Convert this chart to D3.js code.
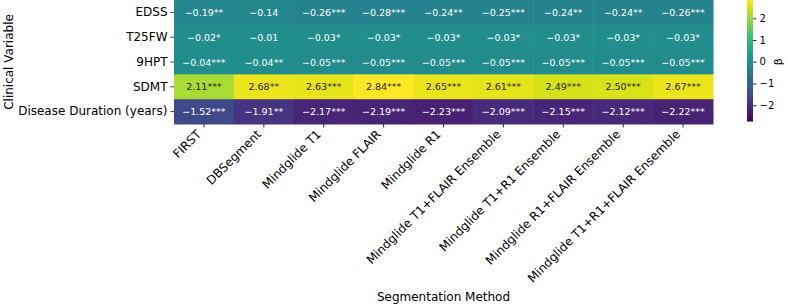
<!DOCTYPE html>
<html><head><meta charset="utf-8">
<script src="https://cdn.jsdelivr.net/npm/d3@7"></script>
<style>body{margin:0;background:#fff}svg{display:block;font-family:"DejaVu Sans",sans-serif}</style>
</head><body><svg id="c" width="788" height="305"></svg>
<script>
const rows = ["EDSS","T25FW","9HPT","SDMT","Disease Duration (years)"];
const cols = ["FIRST","DBSegment","Mindglide T1","Mindglide FLAIR","Mindglide R1","Mindglide T1+FLAIR Ensemble","Mindglide T1+R1 Ensemble","Mindglide R1+FLAIR Ensemble","Mindglide T1+R1+FLAIR Ensemble"];
const betaEDSS  = [-0.19,-0.14,-0.26,-0.28,-0.24,-0.25,-0.24,-0.24,-0.26];
const betaT25FW = [-0.02,-0.01,-0.03,-0.03,-0.03,-0.03,-0.03,-0.03,-0.03];
const beta9HPT  = [-0.04,-0.04,-0.05,-0.05,-0.05,-0.05,-0.05,-0.05,-0.05];
const betaSDMT  = [2.11,2.68,2.63,2.84,2.65,2.61,2.49,2.50,2.67];
const betaDur   = [-1.52,-1.91,-2.17,-2.19,-2.23,-2.09,-2.15,-2.12,-2.22];
const starsEDSS  = ["**","","***","***","**","***","**","**","***"];
const starsT25FW = ["*","","*","*","*","*","*","*","*"];
const stars9HPT  = ["***","**","***","***","***","***","***","***","***"];
const starsSDMT  = ["***","**","***","***","***","***","***","***","***"];
const starsDur   = ["***","**","***","***","***","***","***","***","***"];
const cbTicks = [-2,-1,0,1,2];
const colorDomain = [-2.75, 2.84];

const values = [betaEDSS,betaT25FW,beta9HPT,betaSDMT,betaDur];
const stars = [starsEDSS,starsT25FW,stars9HPT,starsSDMT,starsDur];
const cells = [];
rows.forEach((r,i)=>cols.forEach((c,j)=>cells.push({r,c,v:values[i][j],s:stars[i][j]})));

const svg = d3.select("#c");
const L=174, R=713, T=0, B=124;
const x = d3.scaleBand().domain(cols).range([L,R]);
const y = d3.scaleBand().domain(rows).range([T,B]);
const color = d3.scaleSequential(d3.interpolateViridis).domain(colorDomain);

function lum(c){
  const r=d3.rgb(c);
  const f=v=>{v/=255;return v<=0.03928?v/12.92:Math.pow((v+0.055)/1.055,2.4);};
  return 0.2126*f(r.r)+0.7152*f(r.g)+0.0722*f(r.b);
}

svg.append("g").selectAll("rect").data(cells).join("rect")
  .attr("x",d=>x(d.c)).attr("y",d=>y(d.r))
  .attr("width",x.bandwidth()+0.5).attr("height",y.bandwidth()+0.5)
  .attr("fill",d=>color(d.v));

const fmt = d3.format(".2f");
svg.append("g").selectAll("text").data(cells).join("text")
  .attr("x",d=>x(d.c)+x.bandwidth()/2).attr("y",d=>y(d.r)+y.bandwidth()/2)
  .attr("text-anchor","middle").attr("dominant-baseline","central")
  .attr("font-size",9.5).attr("fill",d=>lum(color(d.v))>0.408?"#262626":"#fff")
  .text(d=>fmt(d.v)+d.s);

// y axis
const ya = svg.append("g").attr("transform",`translate(${L},0)`)
  .call(d3.axisLeft(y).tickSize(3.5).tickPadding(3));
ya.select(".domain").remove();
ya.selectAll("text").attr("font-size",12).attr("fill","#000").attr("font-family","DejaVu Sans");
ya.selectAll("line").attr("stroke","#000").attr("stroke-width",0.8);

// x axis
const xa = svg.append("g").attr("transform",`translate(0,${B})`)
  .call(d3.axisBottom(x).tickSize(3.5));
xa.select(".domain").remove();
xa.selectAll("line").attr("stroke","#000").attr("stroke-width",0.8);
xa.selectAll("text").attr("font-size",12).attr("fill","#000").attr("font-family","DejaVu Sans")
  .attr("text-anchor","end").attr("dy",null).attr("y",0)
  .attr("transform","translate(-2,11) rotate(-45)");

svg.append("text").attr("x",(L+R)/2).attr("y",301).attr("text-anchor","middle")
  .attr("font-size",12).text("Segmentation Method");
svg.append("text").attr("transform",`translate(9,${(T+B)/2}) rotate(-90)`).attr("text-anchor","middle")
  .attr("dominant-baseline","central").attr("font-size",12).text("Clinical Variable");

// colorbar
const cbX=747, cbW=6, cbT=0, cbB=121.5;
const cy = d3.scaleLinear().domain(colorDomain).range([cbB,cbT]);
const defs = svg.append("defs");
const grad = defs.append("linearGradient").attr("id","g").attr("x1",0).attr("x2",0).attr("y1",1).attr("y2",0);
d3.range(0,1.0001,0.05).forEach(t=>grad.append("stop").attr("offset",t).attr("stop-color",d3.interpolateViridis(t)));
svg.append("rect").attr("x",cbX).attr("y",cbT).attr("width",cbW).attr("height",cbB-cbT).attr("fill","url(#g)");
const ca = svg.append("g").attr("transform",`translate(${cbX+cbW},0)`)
  .call(d3.axisRight(cy).tickValues(cbTicks).tickSize(3.5).tickPadding(3).tickFormat(d=>d<0?"\u2212"+Math.abs(d):d));
ca.select(".domain").remove();
ca.selectAll("text").attr("font-size",10).attr("fill","#000").attr("font-family","DejaVu Sans");
ca.selectAll("line").attr("stroke","#000").attr("stroke-width",0.8);
svg.append("text").attr("transform",`translate(778,${cy(0)}) rotate(-90)`).attr("text-anchor","middle")
  .attr("dominant-baseline","central").attr("font-size",11).text("β");
</script></body></html>
